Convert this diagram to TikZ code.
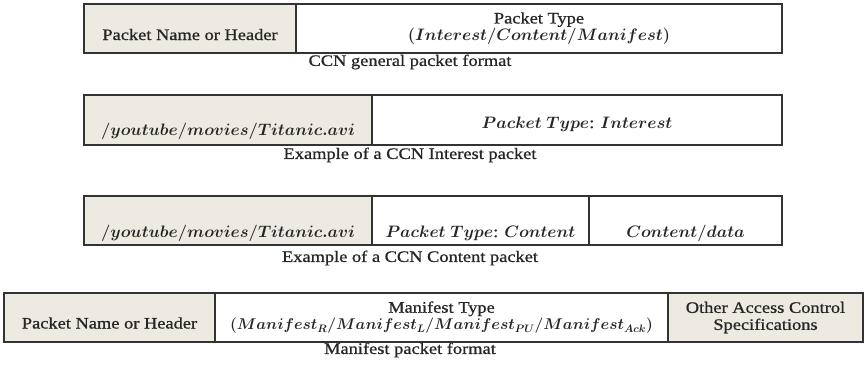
\documentclass[tikz,border=0pt]{standalone}
\usepackage{amsmath}
\usepackage{graphicx}
\usepackage{bm}
\usepackage{fontspec}
\setmainfont[FakeStretch=1.15,FakeBold=0.8]{Liberation Serif}
\usetikzlibrary{positioning}

\definecolor{namebg}{RGB}{237,234,225}
\newcommand{\mi}[2][0.96]{\scalebox{#1}{\fontsize{17.28}{20}\selectfont$\bm{#2}$}}

\begin{document}
\begin{tikzpicture}[
            x = 1pt, y = -1pt, % one unit per pixel, rows run downwards
            cell/.style = {draw=black!80, line width=1.2pt, minimum height=49pt,
                           inner xsep=0pt, inner ysep=2pt, outer sep=0pt, text=black!85},
            named/.style = {cell, fill=namebg}, % shaded name field
            low/.style = {text height=#1, text depth=1pt}, % push text down in its cell
            caption/.style = {text=black!85},
            font = \fontsize{16}{17}\selectfont
        ]
	\useasboundingbox (0,0) rectangle (867,368);

	% general format
	\node[named, low=24pt, minimum width=212pt, anchor=north west] (gname) at (84,4) {Packet Name or Header};
	\node[cell, align=center, minimum width=486pt, right=0pt of gname] (gtype) {Packet Type\\ \mi{(Interest/Content/Manifest)}};
	\node[caption] (gcap) at (410,62) {CCN general packet format};

	% interest packet
	\node[named, low=31pt, minimum height=50pt, minimum width=288pt, anchor=north west] (iname) at (84,95) {\mi{/youtube/movies/Titanic.avi}};
	\node[cell, low=17pt, minimum height=50pt, minimum width=410pt, right=0pt of iname] (itype) {\mi{Packet\ Type}: \mi{Interest}};
	\node[caption] (icap) at (410,155) {Example of a CCN Interest packet};

	% content packet
	\node[named, low=34pt, minimum width=288pt, anchor=north west] (cname) at (84,196) {\mi{/youtube/movies/Titanic.avi}};
	\node[cell, low=34pt, minimum width=217pt, right=0pt of cname] (ctype) {\mi{Packet\ Type}: \mi{Content}};
	\node[cell, low=34pt, minimum width=193pt, right=0pt of ctype] (cdata) {\mi{Content/data}};
	\node[caption] (ccap) at (410,258) {Example of a CCN Content packet};

	% manifest packet
	\node[named, low=23pt, minimum width=211pt, anchor=north west] (mname) at (4,293) {Packet Name or Header};
	\node[cell, align=center, minimum width=453pt, right=0pt of mname] (mtype) {Manifest Type\\ \mi[0.9]{(Manifest_R/Manifest_L/Manifest_{PU}/Manifest_{Ack})}};
	\node[named, align=center, minimum width=195pt, right=0pt of mtype] (mspec) {Other Access Control\\ Specifications};
	\node[caption] (mcap) at (410,350) {Manifest packet format};

\end{tikzpicture}
\end{document}
